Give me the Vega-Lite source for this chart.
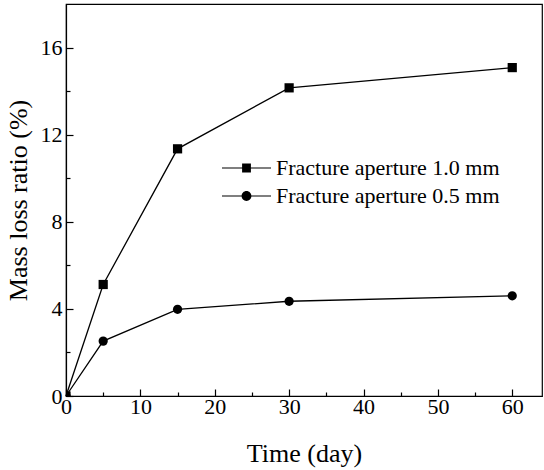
{
  "$schema": "https://vega.github.io/schema/vega-lite/v6.json",
  "width": 476,
  "height": 392,
  "autosize": {"type": "none"},
  "padding": {"left": 66, "top": 4, "right": 2, "bottom": 74},
  "background": "white",
  "config": {
    "view": {"stroke": "black", "strokeWidth": 1.2}
  },
  "data": {
    "values": [
      {"day": 0, "ratio": 0, "series": "Fracture aperture 1.0 mm"},
      {"day": 5, "ratio": 5.12, "series": "Fracture aperture 1.0 mm"},
      {"day": 15, "ratio": 11.35, "series": "Fracture aperture 1.0 mm"},
      {"day": 30, "ratio": 14.15, "series": "Fracture aperture 1.0 mm"},
      {"day": 60, "ratio": 15.08, "series": "Fracture aperture 1.0 mm"},
      {"day": 0, "ratio": 0, "series": "Fracture aperture 0.5 mm"},
      {"day": 5, "ratio": 2.52, "series": "Fracture aperture 0.5 mm"},
      {"day": 15, "ratio": 3.98, "series": "Fracture aperture 0.5 mm"},
      {"day": 30, "ratio": 4.35, "series": "Fracture aperture 0.5 mm"},
      {"day": 60, "ratio": 4.6, "series": "Fracture aperture 0.5 mm"}
    ]
  },
  "encoding": {
    "x": {
      "field": "day", "type": "quantitative",
      "scale": {"domain": [0, 64], "nice": false},
      "axis": {
        "title": "Time (day)",
        "values": [0, 5, 10, 15, 20, 25, 30, 35, 40, 45, 50, 55, 60],
        "labelExpr": "datum.value % 10 === 0 ? datum.label : ''",
        "tickSize": {"condition": {"test": "datum.value % 10 === 0", "value": -7}, "value": -4},
        "tickColor": "black",
        "tickWidth": 1.2,
        "domainColor": "black",
        "domainWidth": 1.2,
        "labelPadding": 7,
        "labelFlush": false,
        "labelFont": "Liberation Serif",
        "labelFontSize": 22,
        "labelColor": "black",
        "titleFont": "Liberation Serif",
        "titleFontSize": 26,
        "titleFontWeight": "normal",
        "titleColor": "black",
        "titlePadding": 23,
        "grid": false
      }
    },
    "y": {
      "field": "ratio", "type": "quantitative",
      "scale": {"domain": [0, 18], "nice": false},
      "axis": {
        "title": "Mass loss ratio (%)",
        "values": [0, 2, 4, 6, 8, 10, 12, 14, 16],
        "labelExpr": "datum.value % 4 === 0 ? datum.label : ''",
        "tickSize": {"condition": {"test": "datum.value % 4 === 0", "value": -7}, "value": -4},
        "tickColor": "black",
        "tickWidth": 1.2,
        "domainColor": "black",
        "domainWidth": 1.2,
        "labelPadding": 11,
        "labelFlush": false,
        "labelFont": "Liberation Serif",
        "labelFontSize": 22,
        "labelColor": "black",
        "titleFont": "Liberation Serif",
        "titleFontSize": 26,
        "titleFontWeight": "normal",
        "titleColor": "black",
        "titlePadding": 9,
        "grid": false
      }
    }
  },
  "layer": [
    {
      "mark": {"type": "line", "color": "black", "strokeWidth": 1.3},
      "encoding": {"detail": {"field": "series"}}
    },
    {
      "mark": {"type": "point", "filled": true, "color": "black", "opacity": 1, "clip": true},
      "encoding": {
        "shape": {
          "field": "series",
          "scale": {"domain": ["Fracture aperture 1.0 mm", "Fracture aperture 0.5 mm"], "range": ["square", "circle"]},
          "legend": null
        },
        "size": {"value": 85}
      }
    },
    {
      "mark": {"type": "point", "filled": true, "color": "black", "opacity": 0},
      "encoding": {
        "shape": {
          "field": "series",
          "scale": {
            "domain": ["Fracture aperture 1.0 mm", "Fracture aperture 0.5 mm"],
            "range": [
              "M-1,-0.025H1V0.025H-1ZM-0.18,-0.18H0.18V0.18H-0.18Z",
              "M-1,-0.025H1V0.025H-1ZM0.2,0C0.2,0.1105,0.1105,0.2,0,0.2C-0.1105,0.2,-0.2,0.1105,-0.2,0C-0.2,-0.1105,-0.1105,-0.2,0,-0.2C0.1105,-0.2,0.2,-0.1105,0.2,0Z"
            ]
          },
          "legend": {
            "title": null,
            "orient": "none",
            "legendX": 155,
            "legendY": 151,
            "padding": 0,
            "symbolSize": 2401,
            "clipHeight": 26,
            "symbolFillColor": "black",
            "symbolOpacity": 1,
            "labelFont": "Liberation Serif",
            "labelFontSize": 22,
            "labelColor": "black",
            "labelOffset": 4,
            "rowPadding": 2,
            "labelLimit": 400,
            "encode": {
              "symbols": {
                "update": {
                  "fill": {"value": "black"},
                  "opacity": {"value": 1}
                }
              }
            }
          }
        }
      }
    }
  ],
  "resolve": {"scale": {"shape": "independent"}}
}
